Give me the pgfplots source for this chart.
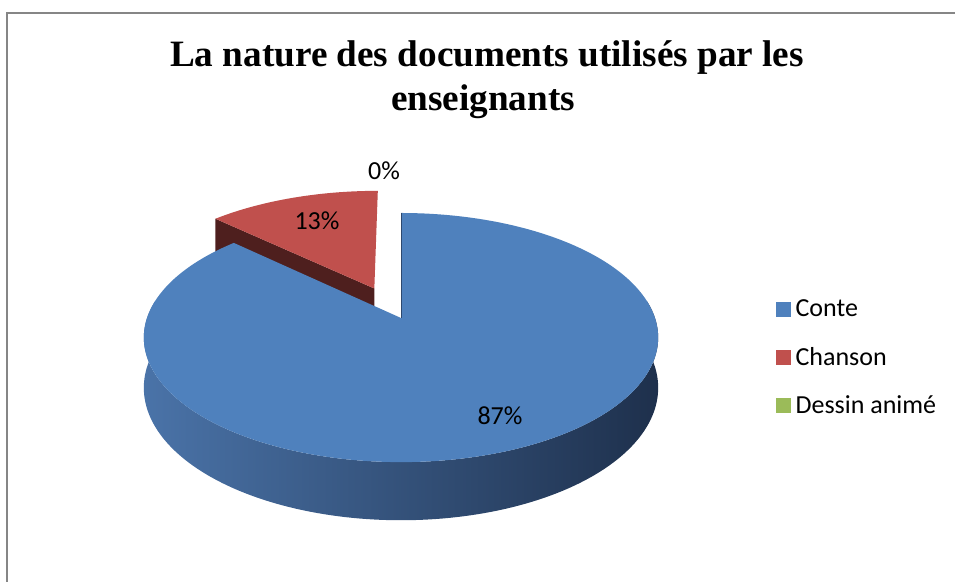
\documentclass[border=0pt]{standalone}
\usepackage{pgfplots}
\pgfplotsset{compat=1.18}
\usepackage{pgfplotstable}
\usepackage{fontspec}
\setmainfont{Carlito}
\newfontfamily\titlefont{Liberation Serif}

\definecolor{blueTop}{RGB}{79,129,189}
\definecolor{redTop}{RGB}{192,80,77}
\definecolor{redSide}{RGB}{78,31,30}
\definecolor{greenC}{RGB}{155,187,89}
\definecolor{sideL}{RGB}{74,115,168}
\definecolor{sideM}{RGB}{50,82,125}
\definecolor{sideR}{RGB}{30,48,76}
\definecolor{frameC}{RGB}{134,134,134}

\pgfplotstableread{
name value
Conte 87
Chanson 13
Dessin 0
}\piedata

\begin{document}%
\begin{tikzpicture}
\pgfplotstablegetelem{0}{value}\of\piedata \let\vA\pgfplotsretval
\pgfplotstablegetelem{1}{value}\of\piedata \let\vB\pgfplotsretval
\pgfplotstablegetelem{2}{value}\of\piedata \let\vC\pgfplotsretval
% angles (Excel: start at 12 o'clock, clockwise)
\pgfmathsetmacro\bStart{90-3.6*\vA}
\pgfmathsetmacro\rEnd{90+3.6*\vB}
\pgfmathsetmacro\bis{(90+\rEnd)/2}
\pgfmathsetmacro\du{0.275*cos(\bis)}
\pgfmathsetmacro\dv{0.275*sin(\bis)}
\pgfmathsetmacro\rAx{401+254*\du/(1+0.157*\dv)}
\pgfmathsetmacro\rAy{318-121.5*\dv/(1+0.157*\dv)}
\pgfmathsetmacro\rAz{49/(1+0.157*\dv)}
\pgfmathsetmacro\rAyb{\rAy+\rAz}
\pgfmathsetmacro\ru{\du+cos(\rEnd)}
\pgfmathsetmacro\rv{\dv+sin(\rEnd)}
\pgfmathsetmacro\rBx{401+254*\ru/(1+0.157*\rv)}
\pgfmathsetmacro\rBy{318-121.5*\rv/(1+0.157*\rv)}
\pgfmathsetmacro\rBz{49/(1+0.157*\rv)}
\pgfmathsetmacro\rByb{\rBy+\rBz}
\useasboundingbox (0,0) rectangle (477.5pt,291pt);
\begin{axis}[
  width=477.5pt, height=291pt, scale only axis,
  xmin=0, xmax=955, ymin=0, ymax=582, y dir=reverse,
  hide axis, clip=false,
  declare function={
    sx(\u,\v)=401+254*\u/(1+0.157*\v);
    sy(\u,\v)=318-121.5*\v/(1+0.157*\v);
    dz(\v)=49/(1+0.157*\v);
    th(\s)=(\s<=1)*(172+\s*196)+(\s>1)*(368-(\s-1)*196);
  },
  legend image code/.code={\fill[#1] (0pt,-3.7pt) rectangle (7.4pt,3.7pt);},
  legend style={draw=none, fill=none, at={(axis cs:776,295)}, anchor=north west,
    inner sep=0pt, row sep=9.25pt,
    font=\fontsize{13}{15}\selectfont,
    nodes={inner sep=2.2pt}},
  legend cell align=left,
]
\addlegendimage{fill=blueTop, draw=none}
\addlegendentry{Conte}
\addlegendimage{fill=redTop, draw=none}
\addlegendentry{Chanson}
\addlegendimage{fill=greenC, draw=none}
\addlegendentry{Dessin animé}

% red slice side face
\edef\tmp{\noexpand\addplot[forget plot, fill=redSide, draw=none] coordinates {(\rAx,\rAy) (\rBx,\rBy) (\rBx,\rByb) (\rAx,\rAyb)} -- cycle;}
\tmp
% red slice top
\addplot[forget plot, fill=redTop, draw=none, domain=90:\rEnd, samples=60]
  ({sx(\du+cos(x),\dv+sin(x))},{sy(\du+cos(x),\dv+sin(x))}) -- (axis cs:\rAx,\rAy) -- cycle;
% blue outer side
\addplot[forget plot, draw=none, left color=sideL, middle color=sideM, right color=sideR,
  domain=0:2, samples=301]
  ({sx(cos(th(x)),sin(th(x)))},{sy(cos(th(x)),sin(th(x)))+(x>1)*dz(sin(th(x)))}) -- cycle;
% blue top
\addplot[forget plot, fill=blueTop, draw=none, domain=\bStart:90, samples=200]
  ({sx(cos(x),sin(x))},{sy(cos(x),sin(x))}) -- (axis cs:401,318) -- cycle;
\addplot[forget plot, draw={rgb,255:red,45;green,72;blue,110}, line width=0.5pt, domain=0:1, samples=2]
  ({401},{318-x*121.5/1.157});

% labels
\node[font=\fontsize{13}{15}\selectfont] at (axis cs:500,416) {87\%};
\node[font=\fontsize{13}{15}\selectfont] at (axis cs:317,221) {13\%};
\node[font=\fontsize{13}{15}\selectfont] at (axis cs:384,171) {0\%};

% title
\node[anchor=base, font=\titlefont\bfseries\fontsize{18.6}{22}\selectfont] at (axis cs:487,67) {La nature des documents utilisés par les};
\node[anchor=base, font=\titlefont\bfseries\fontsize{18.6}{22}\selectfont] at (axis cs:483,111) {enseignants};

% frame
\draw[frameC, line width=1pt] (axis cs:7,582) -- (axis cs:7,13) -- (axis cs:955,13);
\end{axis}
\end{tikzpicture}%
\end{document}
